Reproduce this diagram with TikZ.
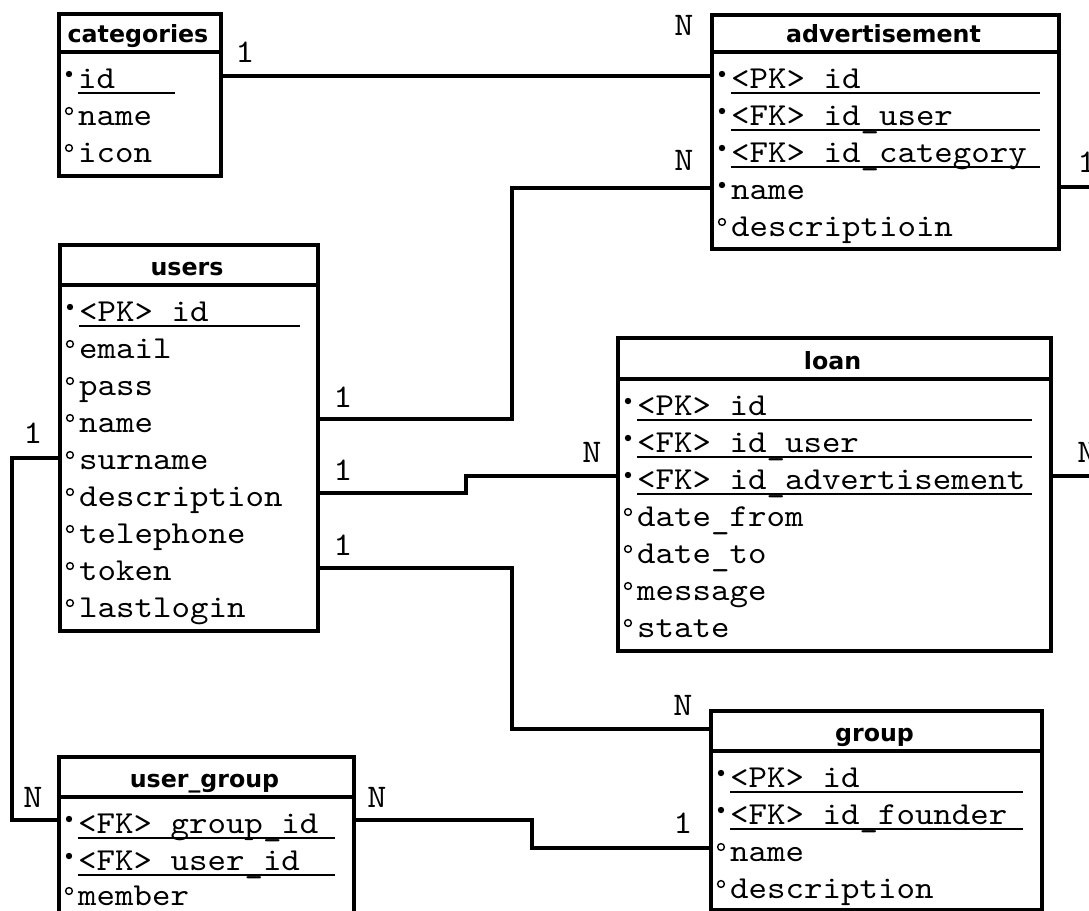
\documentclass[tikz,border=0pt]{standalone}
\usepackage{fontspec}
\newfontfamily\erfont{lmmono10-regular.otf}[FakeStretch=1.1]
\newfontfamily\ttlfont{DejaVu Sans}
\usetikzlibrary{calc}
\newcommand\lus{\raisebox{-3.5pt}{\_}}
\tikzset{
  tbl/.style={draw, line width=4pt, inner sep=0pt, anchor=north west},
  hdr/.style={line width=3.3pt},
  conn/.style={line width=3.3pt},
  ulin/.style={line width=1.3pt},
  ttl/.style={font=\ttlfont\bfseries\fontsize{23.7}{28}\selectfont, anchor=base, inner sep=0pt},
  fld/.style={font=\erfont\fontsize{32}{36}\selectfont, anchor=base west, inner sep=0pt},
  card/.style={font=\erfont\fontsize{33}{36}\selectfont, anchor=center, inner sep=0pt},
}
% name, left, top, right, header line, bottom, title
\newcommand\ERtable[7]{%
  \node[tbl, minimum width={(#4-#2)*1pt}, minimum height={(#6-#3)*1pt}] (#1) at (#2,#3) {};
  \draw[hdr] (#2,#5) -- (#4,#5);
  \node[ttl] (#1-title) at ({(#2+#4)/2},{#5-10}) {#7};
}
% name, left, row centre, text, underline end
\newcommand\ERkey[5]{%
  \fill ({#2+12},{#3-6}) circle (3.2pt);
  \node[fld] (#1) at ({#2+21},{#3+8}) {#4};
  \draw[ulin] ({#2+21},{#3+13}) -- (#5,{#3+13});
}
% name, left, row centre, text  (required, not a key)
\newcommand\ERreq[4]{%
  \fill ({#2+12},{#3-6}) circle (3.2pt);
  \node[fld] (#1) at ({#2+21},{#3+8}) {#4};
}
% name, left, row centre, text  (optional)
\newcommand\ERopt[4]{%
  \draw[line width=1.4pt] ({#2+12},{#3-6}) circle (3.4pt);
  \node[fld] (#1) at ({#2+21},{#3+8}) {#4};
}
\begin{document}
\begin{tikzpicture}[x=1pt, y=-1pt]
\useasboundingbox (0,0) rectangle (1089,910);
\clip (0,0) rectangle (1089,910);

% categories
\ERtable{cat}{57}{12}{219}{52}{174}{categories}
\ERkey{cat-1}{57}{80}{id}{175}
\ERopt{cat-2}{57}{117}{name}
\ERopt{cat-3}{57}{154}{icon}

% advertisement
\ERtable{adv}{710}{13}{1057}{52}{247}{advertisement}
\ERkey{adv-1}{710}{80}{<PK> id}{1040}
\ERkey{adv-2}{710}{117}{<FK> id\lus user}{1040}
\ERkey{adv-3}{710}{154}{<FK> id\lus category}{1040}
\ERreq{adv-4}{710}{191}{name}
\ERopt{adv-5}{710}{228}{descriptioin}

% users
\ERtable{users}{58}{243}{316}{285}{629}{users}
\ERkey{users-1}{58}{313}{<PK> id}{300}
\ERopt{users-2}{58}{350}{email}
\ERopt{users-3}{58}{387}{pass}
\ERopt{users-4}{58}{424}{name}
\ERopt{users-5}{58}{461}{surname}
\ERopt{users-6}{58}{498}{description}
\ERopt{users-7}{58}{535}{telephone}
\ERopt{users-8}{58}{572}{token}
\ERopt{users-9}{58}{609}{lastlogin}

% loan
\ERtable{loan}{616}{336}{1049}{379}{649}{loan}
\ERkey{loan-1}{616}{407}{<PK> id}{1032}
\ERkey{loan-2}{616}{444}{<FK> id\lus user}{1032}
\ERkey{loan-3}{616}{481}{<FK> id\lus advertisement}{1032}
\ERopt{loan-4}{616}{518}{date\lus from}
\ERopt{loan-5}{616}{555}{date\lus to}
\ERopt{loan-6}{616}{592}{message}
\ERopt{loan-7}{616}{629}{state}

% group
\ERtable{group}{709}{709}{1040}{751}{908}{group}
\ERkey{group-1}{709}{779}{<PK> id}{1023}
\ERkey{group-2}{709}{816}{<FK> id\lus founder}{1023}
\ERopt{group-3}{709}{853}{name}
\ERopt{group-4}{709}{890}{description}

% user_group
\ERtable{ug}{57}{755}{352}{797}{940}{user\_group}
\ERkey{ug-1}{57}{825}{<FK> group\lus id}{335}
\ERkey{ug-2}{57}{862}{<FK> user\lus id}{335}
\ERopt{ug-3}{57}{897}{member}

% connectors
\draw[conn] (cat.east |- 0,76) -- (adv.west |- 0,76);
\draw[conn] (users.east |- 0,419) -| (512,188) -- (adv.west |- 0,188);
\draw[conn] (users.east |- 0,493) -| (466,476) -- (loan.west |- 0,476);
\draw[conn] (users.east |- 0,568) -| (512,729) -- (group.west |- 0,729);
\draw[conn] (users.west |- 0,458) -| (12,820) -- (ug.west |- 0,820);
\draw[conn] (ug.east |- 0,820) -| (532,848) -- (group.west |- 0,848);
\coordinate (advout) at (1100,187);
\draw[conn] (adv.east |- 0,187) -- (advout);
\coordinate (loanout) at (1100,476);
\draw[conn] (loan.east |- 0,476) -- (loanout);

% cardinalities
\node[card] (c1) at (245,52) {1};
\node[card] (c2) at (684,25) {N};
\node[card] (c3) at (343,397) {1};
\node[card] (c4) at (684,160) {N};
\node[card] (c5) at (343,470) {1};
\node[card] (c6) at (592,452) {N};
\node[card] (c7) at (343,545) {1};
\node[card] (c8) at (683,705) {N};
\node[card] (c9) at (33,433) {1};
\node[card] (c10) at (33,797) {N};
\node[card] (c11) at (377,797) {N};
\node[card] (c12) at (683,823) {1};
\node[card] (c13) at (1087,162) {1};
\node[card] (c14) at (1087,452) {N};
\end{tikzpicture}
\end{document}
